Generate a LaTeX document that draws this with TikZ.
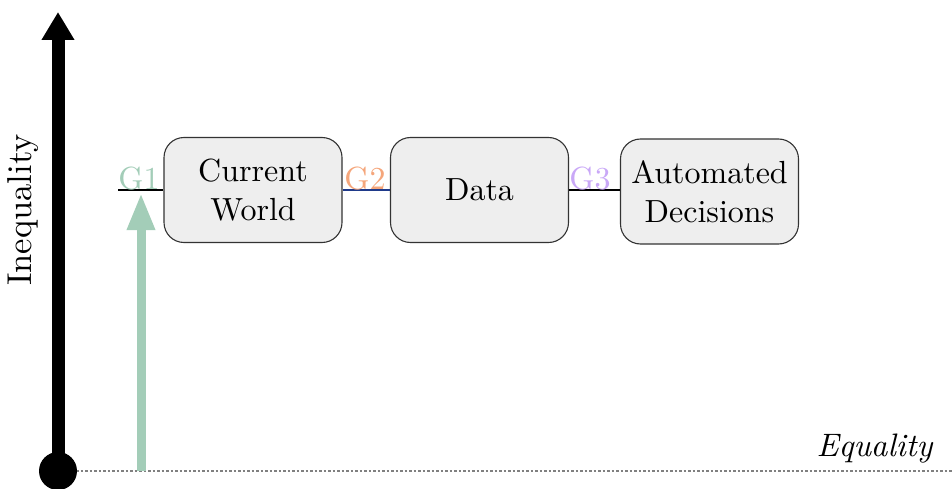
\documentclass[tikz,border=0pt]{standalone}
\usepackage{fontspec}
\setmainfont{lmroman10-regular.otf}[ItalicFont=lmroman10-italic.otf]
\usetikzlibrary{arrows.meta}
\definecolor{gone}{HTML}{A3CDB8}
\definecolor{gtwo}{HTML}{F5A67B}
\definecolor{gthree}{HTML}{C9A8F7}
\definecolor{lblue}{HTML}{1F3A8A}
\definecolor{boxfill}{HTML}{EEEEEE}
\definecolor{boxdraw}{HTML}{333333}
\tikzset{
  stagebox/.style={draw=boxdraw, fill=boxfill, line width=1.1pt, rounded corners=20pt,
    minimum width=178pt, minimum height=105pt, align=center, inner sep=0pt,
    font=\fontsize{32}{39}\selectfont},
  glabel/.style={font=\fontsize{32}{36}\selectfont, inner sep=1pt, anchor=south},
  link/.style={line width=1.6pt},
}
\begin{document}
\begin{tikzpicture}[x=1pt,y=-1pt]
\useasboundingbox (0,0) rectangle (952,489);
% boxes
\node[stagebox] (cw) at (253,190) {Current\\World};
\node[stagebox] (da) at (479.5,190) {Data};
\node[stagebox] (ad) at (709.5,191.5) {Automated\\Decisions};
% links
\coordinate (g1s) at (118,190);
\draw[link] (g1s) -- (cw.west);
\draw[link, lblue] (cw.east) -- (da.west);
\draw[link] (da.east) -- (ad.west |- da.east);
% labels
\node[glabel, text=gone] (g1) at (139,191) {G1};
\node[glabel, text=gtwo] (g2) at (365,191) {G2};
\node[glabel, text=gthree] (g3) at (590,191) {G3};
% axis
\coordinate (origin) at (58,471);
\coordinate (top) at (58,12);
\coordinate (eqend) at (952,471);
\draw[gray, line width=1.2pt, dash pattern=on 2.5pt off 2pt] (origin) -- (eqend);
\draw[line width=13pt, -{Triangle[length=28pt,width=31pt]}] (origin) -- (top);
\fill (origin) circle (19pt);
\node[rotate=90, font=\fontsize{34.5}{36}\selectfont] (ineq) at (23,210) {Inequality};
\node[anchor=base east, font=\fontsize{32.5}{36}\selectfont\itshape] (eq) at (936,456) {Equality};
% green arrow
\coordinate (gbot) at (141,471);
\coordinate (gtop) at (141,193);
\draw[gone, line width=9pt, -{Triangle[length=37pt,width=26pt]}] (gbot) -- (gtop);
\end{tikzpicture}
\end{document}
